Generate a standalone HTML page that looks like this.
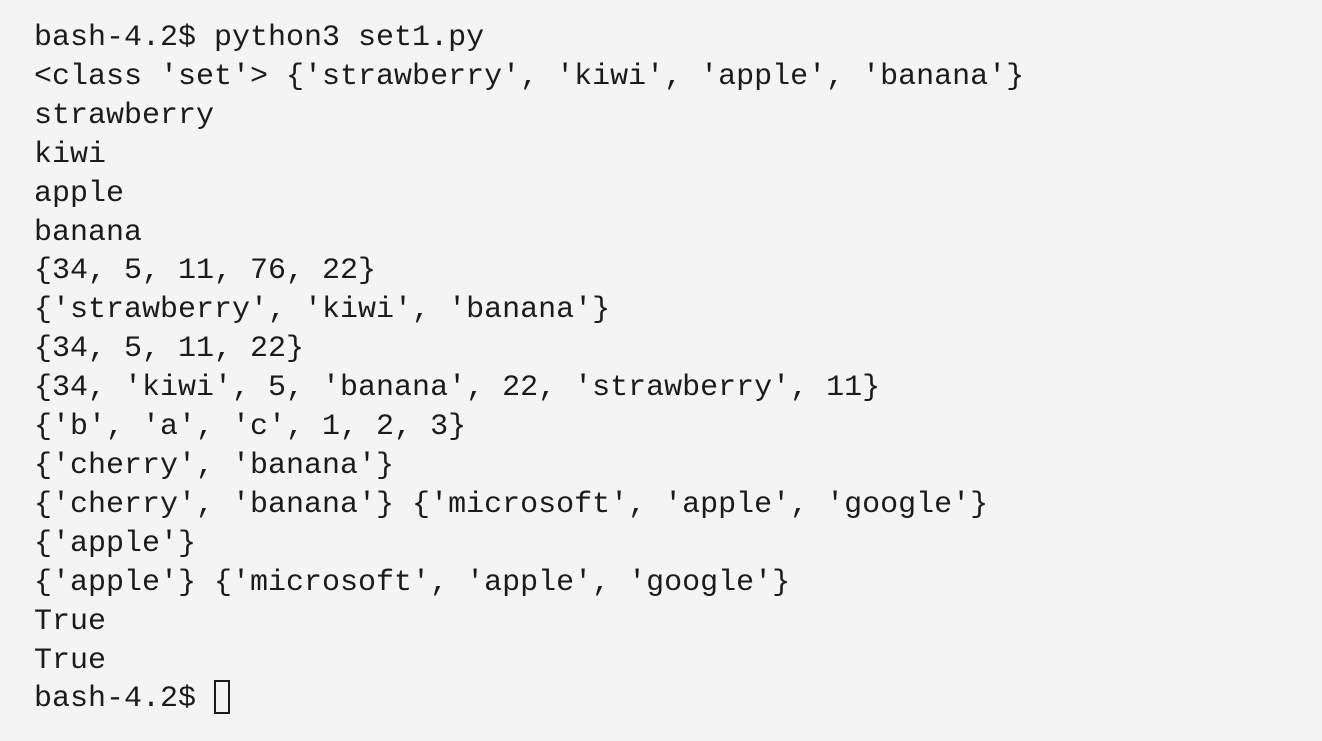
<!DOCTYPE html>
<html><head><meta charset="utf-8"><style>
html,body{margin:0;padding:0;background:#f4f4f4;width:1322px;height:741px;overflow:hidden}
pre{margin:0;position:absolute;left:34px;top:19px;font-family:"Liberation Mono",monospace;font-size:30px;line-height:38.9px;color:#1b1b1b;letter-spacing:0}
.cur{display:inline-block;width:16px;height:34px;border:2px solid #1b1b1b;vertical-align:-8px;box-sizing:border-box}
</style></head><body><pre>bash-4.2$ python3 set1.py
&lt;class 'set'&gt; {'strawberry', 'kiwi', 'apple', 'banana'}
strawberry
kiwi
apple
banana
{34, 5, 11, 76, 22}
{'strawberry', 'kiwi', 'banana'}
{34, 5, 11, 22}
{34, 'kiwi', 5, 'banana', 22, 'strawberry', 11}
{'b', 'a', 'c', 1, 2, 3}
{'cherry', 'banana'}
{'cherry', 'banana'} {'microsoft', 'apple', 'google'}
{'apple'}
{'apple'} {'microsoft', 'apple', 'google'}
True
True
bash-4.2$ <span class="cur"></span></pre></body></html>
